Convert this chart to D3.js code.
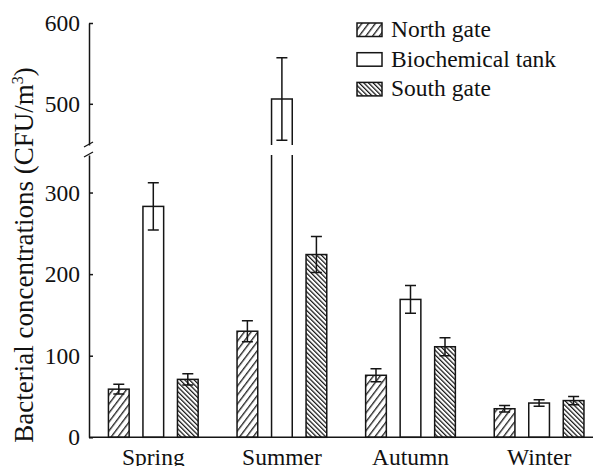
<!DOCTYPE html>
<html>
<head>
<meta charset="utf-8">
<script src="https://cdn.jsdelivr.net/npm/d3@7"></script>
<style>
  html, body { margin: 0; padding: 0; background: #fff; }
  svg { display: block; }
</style>
</head>
<body>
<svg id="chart" width="593" height="466"></svg>
<script>
// ---- data ----
const seasons = ["Spring", "Summer", "Autumn", "Winter"];
const seriesNames = ["North gate", "Biochemical tank", "South gate"];
const northGate = [59, 130, 76, 35];
const northGateErr = [6, 13, 8, 4];
const biochemicalTank = [283, 506, 169, 42];
const biochemicalTankErr = [29, 51, 17, 4];
const southGate = [71, 224, 111, 45];
const southGateErr = [7, 22, 11, 5];
const lowerTicks = [0, 100, 200, 300];
const upperTicks = [500, 600];
const breakLow = 346, breakHigh = 449;

const values = [northGate, biochemicalTank, southGate];
const errors = [northGateErr, biochemicalTankErr, southGateErr];

const FONT = "'Liberation Serif'";
const svg = d3.select("#chart").attr("font-family", FONT);
const ink = "#151515";
const FS = 23.5;

// ---- scales ----
const axisX = 89;
const yLow = d3.scaleLinear().domain([0, breakLow]).range([437.3, 155]);
const yUp = d3.scaleLinear().domain([breakHigh, 600]).range([145, 23]);
const y = v => v <= breakLow ? yLow(v) : yUp(v);

const x0 = d3.scaleBand().domain(seasons).range([axisX, 603.4])
  .paddingInner(0.195).paddingOuter(0.0975);
const x1 = d3.scaleBand().domain(seriesNames).range([0, x0.bandwidth()])
  .paddingInner(0.4).paddingOuter(0.2);

// ---- patterns ----
const defs = svg.append("defs");
const p1 = defs.append("pattern").attr("id", "hatchNorth")
  .attr("patternUnits", "userSpaceOnUse").attr("width", 5.4).attr("height", 10)
  .attr("patternTransform", "rotate(37)");
p1.append("rect").attr("width", 5.4).attr("height", 10).attr("fill", "#fff");
p1.append("line").attr("x1", 0.7).attr("x2", 0.7).attr("y1", 0).attr("y2", 10)
  .attr("stroke", ink).attr("stroke-width", 1.25);
const p3 = defs.append("pattern").attr("id", "hatchSouth")
  .attr("patternUnits", "userSpaceOnUse").attr("width", 3.3).attr("height", 10)
  .attr("patternTransform", "rotate(-45)");
p3.append("rect").attr("width", 3.3).attr("height", 10).attr("fill", "#fff");
p3.append("line").attr("x1", 0.6).attr("x2", 0.6).attr("y1", 0).attr("y2", 10)
  .attr("stroke", ink).attr("stroke-width", 1.25);
const fills = ["url(#hatchNorth)", "#fff", "url(#hatchSouth)"];

// ---- bars ----
const gBars = svg.append("g");
seriesNames.forEach((s, si) => {
  seasons.forEach((season, i) => {
    const v = values[si][i];
    const bx = x0(season) + x1(s);
    const bw = x1.bandwidth();
    if (v <= breakLow) {
      gBars.append("rect").attr("x", bx).attr("y", y(v))
        .attr("width", bw).attr("height", y(0) - y(v))
        .attr("fill", fills[si]).attr("stroke", ink).attr("stroke-width", 1.5);
    } else {
      gBars.append("rect").attr("x", bx).attr("y", yLow(breakLow))
        .attr("width", bw).attr("height", y(0) - yLow(breakLow))
        .attr("fill", fills[si]).attr("stroke", "none");
      gBars.append("path")
        .attr("d", `M${bx},${y(0)}V${yLow(breakLow)}M${bx + bw},${yLow(breakLow)}V${y(0)}`)
        .attr("fill", "none").attr("stroke", ink).attr("stroke-width", 1.5);
      gBars.append("rect").attr("x", bx).attr("y", yUp(v))
        .attr("width", bw).attr("height", yUp(breakHigh) - yUp(v))
        .attr("fill", fills[si]).attr("stroke", "none");
      gBars.append("path")
        .attr("d", `M${bx},${yUp(breakHigh)}V${yUp(v)}H${bx + bw}V${yUp(breakHigh)}`)
        .attr("fill", "none").attr("stroke", ink).attr("stroke-width", 1.5);
    }
    const e = errors[si][i];
    const cx = bx + bw / 2;
    const cap = 5.5;
    gBars.append("path")
      .attr("d", `M${cx},${y(v - e)}V${y(v + e)}M${cx - cap},${y(v + e)}H${cx + cap}M${cx - cap},${y(v - e)}H${cx + cap}`)
      .attr("fill", "none").attr("stroke", ink).attr("stroke-width", 1.5);
  });
});

// ---- axes ----
const axLow = svg.append("g").attr("transform", `translate(${axisX},0)`)
  .call(d3.axisLeft(yLow).tickValues(lowerTicks).tickSizeInner(-4).tickSizeOuter(0).tickPadding(9));
const axUp = svg.append("g").attr("transform", `translate(${axisX},0)`)
  .call(d3.axisLeft(yUp).tickValues(upperTicks).tickSizeInner(-4).tickSizeOuter(0).tickPadding(9));
[axLow, axUp].forEach(g => {
  g.attr("font-family", FONT).attr("font-size", FS);
  g.selectAll("path, line").attr("stroke", ink).attr("stroke-width", 1.5);
  g.selectAll("text").attr("font-family", FONT).attr("font-size", FS).attr("fill", "#111");
});

// break marks
const gb = svg.append("g").attr("stroke", ink).attr("stroke-width", 1.3);
gb.append("line").attr("x1", axisX - 5).attr("x2", axisX + 4)
  .attr("y1", yUp(breakHigh) + 2).attr("y2", yUp(breakHigh) - 3);
gb.append("line").attr("x1", axisX - 5).attr("x2", axisX + 4)
  .attr("y1", yLow(breakLow) + 2).attr("y2", yLow(breakLow) - 3);

// x axis line + labels
svg.append("line").attr("x1", axisX).attr("x2", 603).attr("y1", y(0)).attr("y2", y(0))
  .attr("stroke", ink).attr("stroke-width", 1.5);
svg.append("g").selectAll("text").data(seasons).join("text")
  .attr("x", d => x0(d) + x0.bandwidth() / 2)
  .attr("y", 464.5)
  .attr("text-anchor", "middle")
  .attr("font-family", FONT).attr("font-size", FS).attr("fill", "#111")
  .text(d => d);

// y label
const yl = svg.append("text")
  .attr("transform", "translate(33,255) rotate(-90)")
  .attr("text-anchor", "middle")
  .attr("font-family", FONT).attr("font-size", 27).attr("fill", "#111");
yl.append("tspan").text("Bacterial concentrations (CFU/m");
yl.append("tspan").attr("dy", -10).attr("font-size", 16).text("3");
yl.append("tspan").attr("dy", 10).text(")");

// ---- legend ----
const lg = svg.append("g");
seriesNames.forEach((s, i) => {
  const ly = 23 + i * 29.7;
  lg.append("rect").attr("x", 357).attr("y", ly).attr("width", 25).attr("height", 13.5)
    .attr("fill", fills[i]).attr("stroke", ink).attr("stroke-width", 1.5);
  lg.append("text").attr("x", 391).attr("y", ly + 14)
    .attr("font-family", FONT).attr("font-size", FS).attr("fill", "#111").text(s);
});
</script>
</body>
</html>
